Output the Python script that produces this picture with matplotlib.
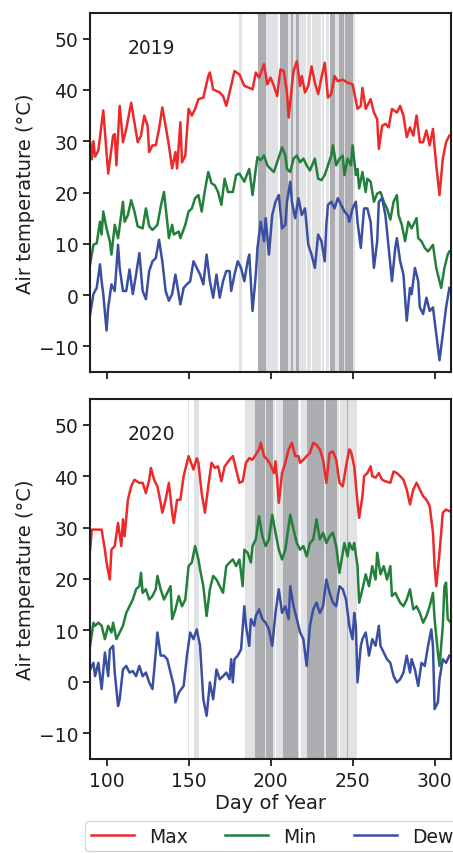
import numpy as np
import matplotlib
matplotlib.use("Agg")
import matplotlib.pyplot as plt

# ---- data (day of year, deg C) ----
years = ["2019", "2020"]

max19_d = [90, 91, 92, 93, 95, 98, 101, 104, 105, 106, 108, 110, 112, 115, 117, 119, 121, 123, 125, 126,
           128, 130, 132, 134, 136, 138, 140, 142, 143, 145, 146, 148, 150, 152, 154, 156, 159, 162, 163, 165,
           169, 171, 173, 175, 178, 181, 184, 187, 189, 191, 193, 196, 198, 200, 202, 204, 206, 208, 210, 211,
           213, 214, 216, 218, 219, 221, 223, 225, 227, 229, 231, 233, 235, 237, 239, 241, 244, 247, 250, 251,
           253, 255, 256, 258, 261, 263, 265, 266, 268, 270, 272, 274, 277, 279, 281, 283, 285, 287, 289, 291,
           293, 295, 297, 299, 301, 303, 305, 307, 309]
max19_v = [29.8, 26.5, 30.0, 27.0, 28.2, 36.0, 23.7, 31.1, 31.4, 25.3, 36.9, 29.8, 32.4, 37.5, 33.7, 29.8, 31.1, 35.0, 33.0, 27.9,
           29.2, 29.2, 32.4, 36.6, 33.0, 29.2, 24.7, 27.9, 24.7, 33.7, 25.9, 27.2, 36.3, 35.0, 36.3, 38.2, 38.5, 42.7, 43.4, 40.1,
           39.5, 38.8, 36.9, 39.5, 43.7, 43.0, 40.8, 40.4, 40.1, 43.4, 42.4, 45.0, 41.1, 42.4, 40.8, 38.8, 44.0, 43.7, 39.5, 34.6,
           40.8, 43.7, 45.6, 40.8, 42.7, 39.5, 40.8, 44.6, 41.4, 39.2, 42.4, 45.3, 38.5, 39.2, 42.7, 41.7, 42.0, 41.4, 41.1, 39.5,
           36.3, 36.9, 40.4, 36.3, 38.2, 35.6, 34.3, 28.5, 33.0, 33.4, 32.7, 36.3, 35.6, 36.9, 35.0, 30.8, 32.7, 31.1, 35.0, 29.8,
           29.8, 32.1, 29.2, 32.4, 25.3, 19.5, 26.6, 29.8, 31.1]

min19_d = [90, 92, 94, 96, 97, 98, 100, 102, 103, 105, 107, 110, 111, 113, 115, 117, 119, 122, 124, 126,
           128, 131, 133, 135, 137, 138, 140, 141, 144, 145, 148, 150, 152, 154, 156, 158, 160, 162, 164, 166,
           168, 170, 172, 174, 177, 179, 181, 184, 185, 187, 189, 191, 192, 194, 196, 198, 200, 202, 204, 207,
           209, 210, 212, 214, 216, 218, 220, 222, 224, 227, 229, 231, 233, 235, 237, 238, 240, 242, 244, 245,
           247, 249, 250, 252, 253, 254, 256, 258, 259, 261, 263, 265, 267, 269, 271, 273, 275, 277, 278, 280,
           282, 284, 286, 289, 290, 292, 294, 296, 299, 301, 304, 306, 308, 309]
min19_v = [6.0, 9.8, 10.1, 14.3, 11.8, 16.3, 13.0, 10.5, 7.9, 13.7, 11.1, 18.2, 14.3, 15.6, 18.5, 16.3, 13.4, 13.0, 16.9, 13.4,
           12.7, 13.7, 17.2, 20.1, 14.3, 11.1, 13.7, 11.8, 12.4, 11.1, 13.7, 16.3, 16.9, 18.9, 19.5, 16.3, 20.5, 24.0, 21.8, 21.4,
           20.1, 17.6, 22.7, 20.1, 20.1, 23.4, 23.7, 22.1, 23.0, 24.6, 19.5, 24.6, 26.9, 26.3, 27.2, 25.3, 24.6, 24.0, 25.9, 28.8,
           27.2, 24.6, 24.0, 26.6, 27.2, 25.9, 26.6, 25.3, 24.3, 26.6, 22.7, 22.4, 23.4, 25.3, 27.2, 29.2, 25.3, 26.6, 27.2, 23.4,
           26.6, 25.3, 29.2, 23.4, 24.6, 20.8, 24.0, 20.1, 22.7, 22.1, 18.2, 19.8, 20.1, 18.2, 16.9, 14.7, 18.2, 19.5, 15.6, 13.7,
           10.5, 14.3, 13.0, 15.0, 11.1, 10.5, 9.2, 8.5, 9.8, 5.3, 1.4, 5.3, 7.9, 8.5]

dew19_d = [90, 92, 94, 96, 97, 98, 100, 101, 103, 105, 107, 108, 110, 112, 114, 116, 118, 120, 122, 124,
           126, 128, 130, 132, 134, 136, 138, 140, 142, 145, 147, 149, 151, 153, 155, 157, 159, 161, 163, 165,
           167, 169, 171, 173, 175, 176, 178, 180, 182, 184, 186, 187, 189, 191, 192, 194, 196, 197, 199, 201,
           203, 205, 207, 209, 210, 212, 213, 215, 217, 219, 221, 223, 225, 227, 229, 231, 233, 234, 235, 237,
           239, 241, 243, 245, 247, 248, 250, 252, 253, 255, 257, 259, 261, 263, 265, 266, 268, 270, 272, 274,
           276, 277, 279, 281, 283, 285, 286, 288, 290, 291, 293, 295, 297, 299, 301, 303, 305, 307, 309]
dew19_v = [-3.7, 0.2, 1.4, 6.0, 2.7, 0.2, -6.9, -2.4, 2.1, 0.8, 9.8, 5.3, 0.8, 0.8, 5.0, 0.2, 4.0, 8.2, 0.8, -0.8,
           4.7, 6.6, 7.2, 10.8, 6.6, 0.8, -1.1, 0.2, 4.0, -1.8, 1.4, 2.1, 2.7, 6.6, 5.3, 4.0, 2.1, 7.9, 2.7, -0.5,
           4.0, -0.5, 2.7, 4.7, 4.7, 0.8, 4.0, 6.6, 5.3, 2.7, 6.6, 7.9, -3.1, 4.0, 9.2, 14.3, 10.5, 15.0, 7.9, 15.6,
           18.2, 19.5, 13.0, 13.7, 18.2, 22.1, 18.2, 15.0, 18.9, 15.6, 16.9, 9.8, 7.9, 5.3, 11.8, 10.5, 6.6, 13.7, 17.6, 18.2,
           16.9, 18.9, 17.6, 16.3, 15.6, 14.3, 16.9, 18.2, 14.3, 9.2, 16.9, 16.9, 14.3, 5.3, 10.5, 18.2, 18.9, 15.6, 9.2, 2.7,
           9.2, 11.1, 6.6, 4.0, -5.0, 1.4, 0.2, 5.3, 2.7, -2.4, -3.7, -0.5, -3.1, -2.4, -7.6, -12.7, -7.6, -2.4, 1.4]

max20_d = [90, 91, 94, 97, 99, 100, 102, 103, 105, 107, 109, 110, 111, 113, 115, 117, 120, 122, 124, 126,
           127, 129, 131, 133, 134, 136, 138, 140, 141, 143, 145, 147, 149, 150, 153, 155, 156, 158, 160, 162,
           164, 166, 168, 170, 172, 175, 177, 179, 181, 183, 185, 187, 189, 191, 193, 194, 196, 198, 200, 202,
           203, 204, 205, 207, 209, 211, 213, 215, 217, 218, 220, 222, 224, 226, 228, 230, 232, 234, 236, 238,
           240, 242, 244, 246, 248, 249, 251, 253, 254, 256, 257, 259, 261, 262, 264, 266, 268, 270, 273, 275,
           277, 279, 281, 283, 285, 287, 289, 291, 293, 295, 297, 299, 300, 301, 303, 304, 305, 307, 309]
max20_v = [25.7, 29.6, 29.6, 29.6, 25.7, 23.2, 19.9, 25.7, 26.4, 30.9, 26.4, 31.6, 28.3, 35.4, 38.0, 39.3, 38.7, 38.7, 36.7, 39.3,
           41.6, 39.3, 38.0, 34.8, 32.9, 35.4, 38.7, 32.9, 30.9, 35.4, 35.4, 40.0, 42.6, 43.9, 41.3, 43.5, 42.6, 36.7, 32.9, 38.0,
           42.6, 41.6, 41.9, 39.0, 41.9, 43.2, 43.9, 41.3, 38.7, 39.0, 42.6, 43.5, 43.2, 44.2, 45.2, 46.5, 43.9, 43.2, 42.2, 40.6,
           42.9, 39.3, 34.8, 40.6, 42.6, 45.2, 46.5, 43.9, 43.9, 42.6, 43.2, 43.9, 44.5, 46.5, 46.1, 45.2, 43.2, 38.7, 44.5, 44.8,
           43.2, 38.7, 38.0, 41.9, 45.2, 44.8, 41.9, 34.8, 31.9, 36.1, 40.0, 40.6, 41.9, 40.0, 39.7, 40.6, 39.3, 39.0, 38.7, 40.9,
           40.6, 40.0, 39.3, 37.4, 34.5, 37.4, 38.7, 37.4, 36.1, 35.4, 34.2, 29.0, 22.5, 18.6, 25.1, 29.0, 32.9, 33.5, 33.2]

min20_d = [90, 92, 93, 95, 97, 99, 101, 103, 104, 106, 108, 110, 112, 114, 116, 118, 120, 121, 122, 124,
           126, 128, 130, 131, 133, 135, 137, 139, 140, 142, 144, 146, 148, 150, 152, 154, 156, 157, 159, 161,
           163, 165, 167, 169, 171, 173, 175, 177, 179, 181, 183, 184, 186, 188, 189, 191, 193, 195, 197, 199,
           201, 203, 205, 207, 209, 211, 212, 214, 216, 218, 220, 222, 224, 226, 228, 230, 232, 234, 236, 238,
           240, 242, 244, 245, 247, 248, 250, 251, 253, 254, 256, 258, 260, 262, 264, 265, 267, 269, 271, 273,
           274, 276, 279, 281, 283, 285, 287, 289, 291, 293, 295, 297, 299, 300, 302, 303, 305, 306, 307, 308, 310]
min20_v = [7.0, 11.5, 10.9, 11.5, 10.9, 8.3, 10.9, 9.6, 11.5, 8.3, 9.6, 10.9, 13.4, 14.7, 16.0, 18.0, 18.6, 21.2, 17.3, 18.0,
           16.0, 16.7, 18.0, 20.6, 18.0, 16.0, 17.3, 18.6, 12.2, 14.1, 16.7, 14.7, 16.0, 22.5, 23.2, 26.4, 23.8, 21.9, 18.6, 12.8,
           18.0, 20.6, 19.9, 18.6, 17.3, 22.5, 23.2, 23.8, 22.5, 23.8, 18.6, 25.7, 25.1, 23.2, 26.4, 27.7, 32.2, 28.3, 26.4, 27.7,
           32.5, 29.0, 25.7, 23.8, 25.7, 30.3, 32.5, 29.6, 27.0, 25.7, 26.4, 24.4, 27.0, 27.7, 31.6, 27.7, 29.0, 27.0, 28.3, 29.0,
           26.4, 21.2, 25.1, 27.0, 24.4, 27.0, 25.7, 27.0, 22.5, 15.4, 18.0, 20.9, 18.6, 22.5, 19.9, 25.1, 20.9, 22.5, 19.9, 22.5,
           16.7, 17.3, 15.4, 14.7, 16.0, 18.0, 14.1, 14.7, 13.4, 11.5, 12.8, 14.7, 17.3, 12.2, 5.7, 3.1, 10.9, 18.6, 19.3, 12.2, 11.5]

dew20_d = [90, 92, 93, 95, 97, 99, 101, 102, 104, 105, 107, 108, 110, 112, 114, 116, 118, 120, 122, 124,
           126, 128, 130, 131, 133, 135, 137, 139, 141, 142, 144, 147, 149, 151, 153, 155, 157, 158, 159, 161,
           163, 165, 167, 169, 171, 173, 175, 176, 177, 178, 180, 182, 184, 185, 187, 188, 190, 191, 193, 195,
           197, 199, 201, 203, 205, 207, 209, 211, 212, 214, 216, 218, 220, 222, 224, 226, 228, 230, 232, 234,
           236, 238, 240, 242, 244, 246, 248, 250, 251, 252, 253, 255, 256, 258, 260, 262, 264, 266, 267, 269,
           271, 273, 275, 277, 279, 281, 283, 285, 286, 288, 290, 292, 294, 296, 298, 299, 300, 302, 303, 305,
           307, 309]
dew20_v = [2.4, 3.7, 1.1, 3.7, -1.4, 5.7, 1.1, 6.3, 7.0, 1.8, -4.7, -3.4, 2.4, 3.1, 1.8, 2.1, 1.1, 3.1, 1.1, 1.8,
           -0.1, -1.4, 5.7, 9.6, 5.1, 5.1, 4.4, 1.8, -0.8, -4.0, -2.1, -0.8, 5.1, 9.6, 8.3, 10.2, 7.0, 1.8, -3.4, -6.6,
           -0.1, -3.4, 2.4, 0.5, 1.1, 1.8, 0.5, 4.4, -0.1, 4.4, 5.1, 6.3, 14.7, 10.9, 7.0, 12.2, 10.9, 12.8, 14.1, 12.2,
           11.5, 10.2, 7.0, 13.4, 18.0, 13.4, 14.7, 12.2, 18.6, 14.7, 12.2, 9.6, 8.3, 3.1, 10.9, 14.1, 15.4, 13.4, 14.7, 19.9,
           17.3, 15.4, 14.7, 18.6, 18.0, 16.0, 10.9, 8.3, 13.4, 10.9, -0.1, 7.0, 8.3, 9.6, 5.1, 8.3, 7.0, 10.9, 7.0, 5.7,
           4.4, 3.7, 1.1, -0.1, 0.5, 1.8, 5.1, 1.8, 4.4, 2.4, -0.8, 3.7, 3.1, 7.0, 10.2, 7.0, -5.3, -4.0, 0.5, 4.4,
           3.7, 5.1]

# shaded days (light / dark grey)
light19 = [181, 182, 198, 199, 200, 201, 202, 203, 204, 211, 212, 214, 215, 218, 219, 220, 221, 223, 224,
           226, 227, 228, 229, 230, 232, 234, 235, 240, 241, 245, 251]
dark19 = [193, 194, 195, 196, 197, 206, 207, 208, 209, 210, 213, 216, 217, 237, 238, 239, 242, 243, 244,
          246, 247, 248, 249, 250]
light20 = [150, 154, 155, 156, 185, 186, 187, 188, 189, 190, 197, 202, 204, 205, 206, 207, 217, 219, 220,
           221, 222, 233, 241, 243, 244, 245, 246, 248, 249, 250, 251, 252]
dark20 = [191, 192, 193, 194, 195, 196, 198, 199, 200, 201, 208, 209, 210, 211, 212, 213, 214, 215, 216,
          223, 224, 225, 226, 227, 228, 229, 230, 231, 232, 234, 235, 236, 237, 238, 239, 240, 247]

series = [
    ((max19_d, max19_v), (min19_d, min19_v), (dew19_d, dew19_v), light19, dark19),
    ((max20_d, max20_v), (min20_d, min20_v), (dew20_d, dew20_v), light20, dark20),
]
labels = ["Max", "Min", "Dew"]
colors = ["#ec2a2a", "#22803a", "#3a4fa2"]

plt.rcParams['font.family'] = ['DejaVu Sans']
plt.rcParams['text.color'] = '#1e1e1e'
plt.rcParams['axes.labelcolor'] = '#1e1e1e'
plt.rcParams['xtick.color'] = '#1e1e1e'
plt.rcParams['ytick.color'] = '#1e1e1e'

fig = plt.figure(figsize=(4.53, 8.54), dpi=100)
ax1 = fig.add_axes([0.199, 0.5632, 0.7966, 0.4204])
ax2 = fig.add_axes([0.199, 0.1101, 0.7966, 0.4215], sharex=ax1)

for ax, yr, (mx, mn, dw, lt, dk) in zip([ax1, ax2], years, series):
    for d in lt:
        ax.axvspan(d - 0.5, d + 0.5, color='#e1e2e4', lw=0, zorder=0)
    for d in dk:
        ax.axvspan(d - 0.5, d + 0.5, color='#acadb1', lw=0, zorder=0)
    for (dd, vv), lab, c in zip([mx, mn, dw], labels, colors):
        ax.plot(dd, vv, color=c, lw=1.8, label=lab, zorder=2)
    ax.set_xlim(90, 310)
    ax.set_ylim(-15, 55)
    ax.set_yticks([-10, 0, 10, 20, 30, 40, 50])
    ax.set_xticks([100, 150, 200, 250, 300])
    ax.set_ylabel("Air temperature (\u00b0C)", fontsize=14, labelpad=3)
    ax.tick_params(labelsize=13.5, length=5, width=1.3, direction='out')
    for s in ax.spines.values():
        s.set_linewidth(1.5)
        s.set_color('#1e1e1e')
    ax.text(0.17, 0.905, yr, transform=ax.transAxes, fontsize=13.5,
            ha='center', va='center')

ax1.tick_params(labelbottom=False)
ax2.set_xlabel("Day of Year", fontsize=14, labelpad=2)

h, l = ax2.get_legend_handles_labels()
fig.legend(h, l, loc='upper left', bbox_to_anchor=(0.188, 0.0375), ncol=3,
           fontsize=13.5, handlelength=2.3, columnspacing=2.0, frameon=True,
           edgecolor='#cccccc', borderaxespad=0, borderpad=0.3)

fig.savefig("out.png", dpi=100)
